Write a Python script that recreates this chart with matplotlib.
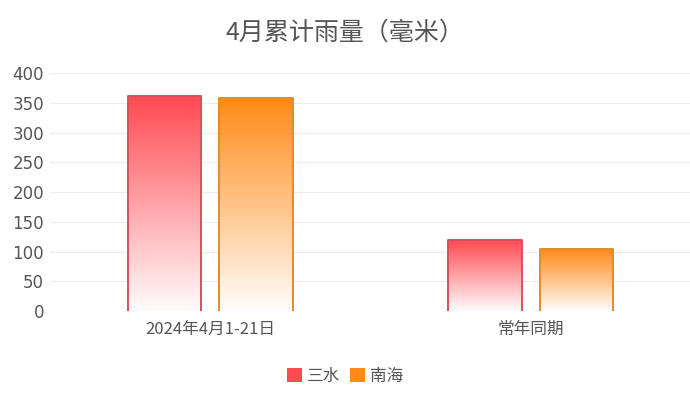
import numpy as np
import matplotlib
matplotlib.use("Agg")
import matplotlib.pyplot as plt
from matplotlib.colors import LinearSegmentedColormap
from matplotlib.patches import Patch

plt.rcParams["font.family"] = ["Noto Sans CJK SC", "DejaVu Sans"]

# Data
categories = ["2024年4月1-21日", "常年同期"]
series_names = ["三水", "南海"]
sanshui = [361, 119]
nanhai = [358, 104]

COLORS = {
    "三水": "#ff4a52",
    "南海": "#ff8a17",
}
EDGE = {
    "三水": "#d8505e",
    "南海": "#e38b2c",
}

fig = plt.figure(figsize=(6.9, 3.95), dpi=100)
ax = fig.add_axes([0.072, 0.212, 0.93, 0.603])

x = np.arange(len(categories))
width = 0.23
offsets = [-0.142, 0.142]

grad = np.linspace(0, 1, 256).reshape(-1, 1)
for name, vals, off in zip(series_names, [sanshui, nanhai], offsets):
    cmap = LinearSegmentedColormap.from_list(name, ["#ffffff", COLORS[name]])
    bars = ax.bar(x + off, vals, width, facecolor="none", edgecolor="none", zorder=3)
    for bar in bars:
        bx, bw, bh = bar.get_x(), bar.get_width(), bar.get_height()
        im = ax.imshow(grad, cmap=cmap, origin="lower", aspect="auto",
                       extent=(bx, bx + bw, 0, bh), zorder=2, vmin=-0.02, vmax=1)
        im.set_clip_path(bar)
        # outline on sides and top only, like the original
        ax.plot([bx, bx, bx + bw, bx + bw], [0, bh, bh, 0], color=EDGE[name],
                linewidth=1.4, zorder=4, solid_joinstyle="round")

ax.set_xlim(-0.5, 1.5)
ax.set_ylim(0, 400)
ax.set_yticks(range(0, 401, 50))
ax.set_xticks(x)
ax.set_xticklabels(categories)
ax.grid(axis="y", color="#ececec", linewidth=0.8, zorder=0)
ax.set_axisbelow(True)
for s in ax.spines.values():
    s.set_visible(False)
ax.tick_params(axis="both", length=0, labelsize=12, labelcolor="#555555")
ax.tick_params(axis="x", pad=7)
ax.tick_params(axis="y", pad=4)
for lbl in ax.get_yticklabels():
    lbl.set_fontfamily(["DejaVu Sans"])

fig.text(0.5, 0.918, "4月累计雨量（毫米）", ha="center", va="center",
         fontsize=18, color="#555555")

handles = [Patch(facecolor=COLORS[n], edgecolor="none", label=n) for n in series_names]
fig.legend(handles=handles, loc="center", bbox_to_anchor=(0.5, 0.048), ncol=2,
           frameon=False, fontsize=12, handlelength=0.9, handleheight=0.9,
           handletextpad=0.3, columnspacing=0.6, labelcolor="#555555")

fig.savefig("out.png", dpi=100)
